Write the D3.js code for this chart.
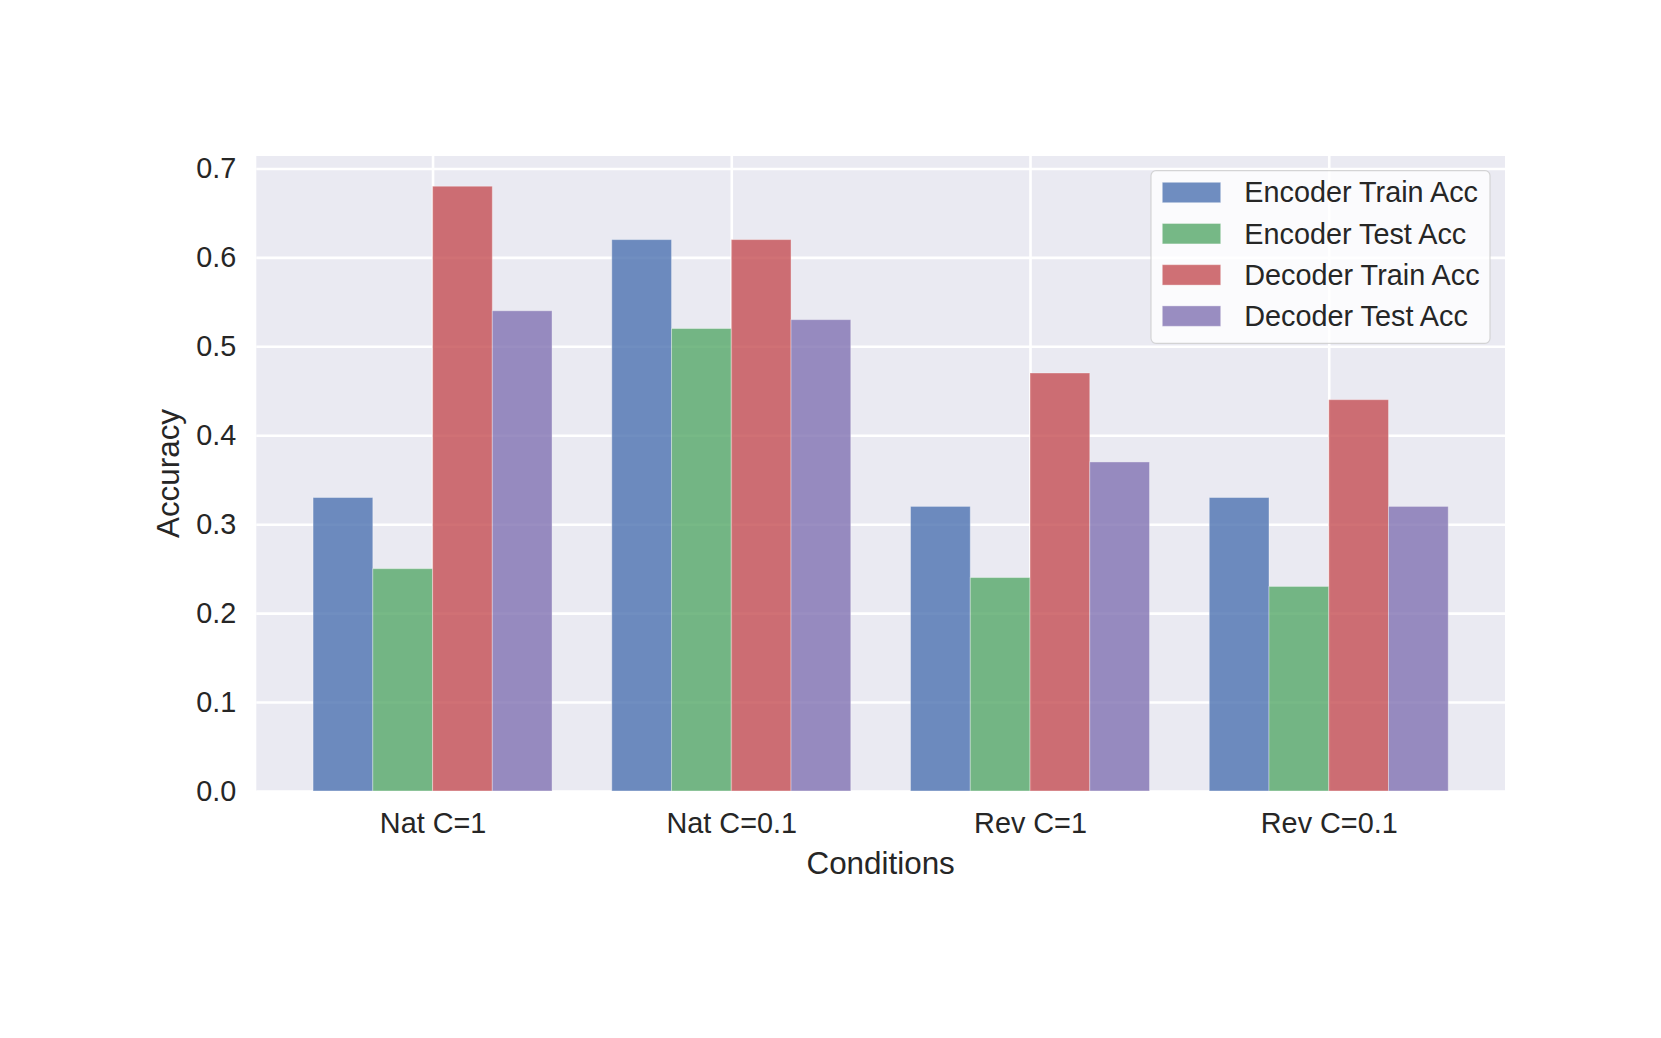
<!DOCTYPE html>
<html>
<head>
<meta charset="utf-8">
<script src="https://cdn.jsdelivr.net/npm/d3@7"></script>
<style>
body { margin: 0; background: #ffffff; }
text { font-family: "Liberation Sans", Arial, sans-serif; fill: #262626; }
</style>
</head>
<body>
<svg id="chart" width="1661" height="1038"></svg>
<script>
var conditions = ["Nat C=1", "Nat C=0.1", "Rev C=1", "Rev C=0.1"];
var seriesNames = ["Encoder Train Acc", "Encoder Test Acc", "Decoder Train Acc", "Decoder Test Acc"];
var encoderTrain = [0.33, 0.62, 0.32, 0.33];
var encoderTest = [0.25, 0.52, 0.24, 0.23];
var decoderTrain = [0.68, 0.62, 0.47, 0.44];
var decoderTest = [0.54, 0.53, 0.37, 0.32];
var yTicks = [0.0, 0.1, 0.2, 0.3, 0.4, 0.5, 0.6, 0.7];

var seriesValues = [encoderTrain, encoderTest, decoderTrain, decoderTest];
var colors = ["#4C72B0", "#55A868", "#C44E52", "#8172B2"];

//Plot area (note: "top" is reserved on window, so use plot* names)
var plotLeft = 256.3, plotRight = 1505, plotTop = 156, plotBottom = 791;
var barWidth = 0.2;
var tickFont = 28.8;

var svg = d3.select("#chart");

//Scales, with matplotlib style margins
var nBars = seriesNames.length;
var xMin = -barWidth * nBars / 2, xMax = conditions.length - 1 + barWidth * nBars / 2;
var xPad = (xMax - xMin) * 0.05;
var x = d3.scaleLinear().domain([xMin - xPad, xMax + xPad]).range([plotLeft, plotRight]);

var yMax = d3.max(seriesValues, function(s) { return d3.max(s); }) * 1.05;
var y = d3.scaleLinear().domain([0, yMax]).range([plotBottom, plotTop]);

//Background
svg.append("rect")
    .attr("x", plotLeft)
    .attr("y", plotTop)
    .attr("width", plotRight - plotLeft)
    .attr("height", plotBottom - plotTop)
    .attr("fill", "#EAEAF2");

//Y axis with gridlines
var yAxis = svg.append("g")
    .attr("transform", "translate(" + plotLeft + ",0)")
    .call(d3.axisLeft(y).tickValues(yTicks).tickFormat(d3.format(".1f")).tickSize(-(plotRight - plotLeft)).tickPadding(20));

yAxis.select(".domain").remove();
yAxis.selectAll("line").attr("stroke", "#ffffff").attr("stroke-width", 2.6);
yAxis.selectAll("text").attr("font-size", tickFont).attr("fill", "#262626").attr("font-family", null);

//X axis with gridlines
var xAxis = svg.append("g")
    .attr("transform", "translate(0," + plotBottom + ")")
    .call(d3.axisBottom(x).tickValues(d3.range(conditions.length)).tickFormat(function(d) { return conditions[d]; }).tickSize(-(plotBottom - plotTop)).tickPadding(22));

xAxis.select(".domain").remove();
xAxis.selectAll("line").attr("stroke", "#ffffff").attr("stroke-width", 2.6);
xAxis.selectAll("text").attr("font-size", tickFont).attr("fill", "#262626").attr("font-family", null);

//Bars
seriesValues.forEach(function(values, i) {
    svg.append("g")
        .selectAll("rect")
        .data(values)
        .enter()
        .append("rect")
        .attr("x", function(d, j) { return x(j - barWidth * nBars / 2 + i * barWidth); })
        .attr("y", function(d) { return y(d); })
        .attr("width", x(barWidth) - x(0))
        .attr("height", function(d) { return y(0) - y(d); })
        .attr("fill", colors[i])
        .attr("fill-opacity", 0.8)
        .attr("stroke", "#ffffff")
        .attr("stroke-opacity", 0.35)
        .attr("stroke-width", 1);
});

//Axis labels
svg.append("text")
    .attr("x", (plotLeft + plotRight) / 2)
    .attr("y", 874)
    .attr("text-anchor", "middle")
    .attr("font-size", 31.4)
    .text("Conditions");

svg.append("text")
    .attr("transform", "translate(179," + ((plotTop + plotBottom) / 2) + ") rotate(-90)")
    .attr("text-anchor", "middle")
    .attr("font-size", 31.4)
    .text("Accuracy");

//Legend
var legend = svg.append("g");

legend.append("rect")
    .attr("x", 1151)
    .attr("y", 170.7)
    .attr("width", 339)
    .attr("height", 172.6)
    .attr("rx", 5)
    .attr("fill", "#ffffff")
    .attr("fill-opacity", 0.8)
    .attr("stroke", "#cccccc")
    .attr("stroke-opacity", 0.8)
    .attr("stroke-width", 1.2);

seriesNames.forEach(function(name, i) {
    var rowY = 182.3 + i * 41.2;
    legend.append("rect")
        .attr("x", 1162.3)
        .attr("y", rowY)
        .attr("width", 58.4)
        .attr("height", 20.4)
        .attr("fill", colors[i])
        .attr("fill-opacity", 0.8)
        .attr("stroke", "#ffffff")
        .attr("stroke-opacity", 0.35)
        .attr("stroke-width", 1);
    legend.append("text")
        .attr("x", 1244.3)
        .attr("y", rowY + 20)
        .attr("font-size", tickFont)
        .text(name);
});
</script>
</body>
</html>
